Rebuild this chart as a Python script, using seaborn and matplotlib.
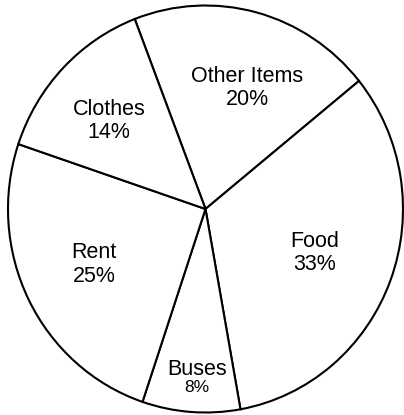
import numpy as np
import matplotlib
matplotlib.use("Agg")
import matplotlib.pyplot as plt
import seaborn as sns

categories = ["Other Items", "Food", "Buses", "Rent", "Clothes"]
values = [20, 33, 8, 25, 14]
pct_labels = ["20%", "33%", "8%", "25%", "14%"]

# label placement: radius fraction and angular nudge (deg) from wedge middle
label_dist = [0.639, 0.590, 0.8145, 0.623, 0.659]
label_nudge = [-4.4, -0.2, 1.1, -1.4, 1.6]
name_size = [15.5, 15.5, 15.5, 15.5, 15.5]
pct_size = [15.5, 15.5, 12.5, 15.5, 15.5]
name_off = [3.1, 3.1, -0.36, 3.1, 3.1]      # points, baseline offset from block centre
pct_off = [-13.7, -13.7, -12.4, -13.7, -13.7]

sns.set_theme(style="white")
plt.rcParams["font.family"] = ["Liberation Sans", "DejaVu Sans"]

fig = plt.figure(figsize=(4.04, 4.15), dpi=100)
W, H = 404, 415
left, right, top, bottom = 8.0, 403.0, 5.5, 412.5
ax = fig.add_axes([left / W, (H - bottom) / H, (right - left) / W, (bottom - top) / H])

wedges, _ = ax.pie(values, startangle=111, counterclock=False,
                   colors=["white"] * len(values),
                   wedgeprops=dict(edgecolor="black", linewidth=1.5))
for w in wedges:
    w.set_clip_on(False)
ax.set_aspect("auto")
ax.set_xlim(-1, 1)
ax.set_ylim(-1, 1)
ax.axis("off")

for i, w in enumerate(wedges):
    mid = np.deg2rad((w.theta1 + w.theta2) / 2 + label_nudge[i])
    x, y = label_dist[i] * np.cos(mid), label_dist[i] * np.sin(mid)
    ax.annotate(categories[i], xy=(x, y), xytext=(0, name_off[i]),
                textcoords="offset points", ha="center", va="baseline",
                fontsize=name_size[i], color="black")
    ax.annotate(pct_labels[i], xy=(x, y), xytext=(0, pct_off[i]),
                textcoords="offset points", ha="center", va="baseline",
                fontsize=pct_size[i], color="black")

fig.savefig("out.png", dpi=100)
